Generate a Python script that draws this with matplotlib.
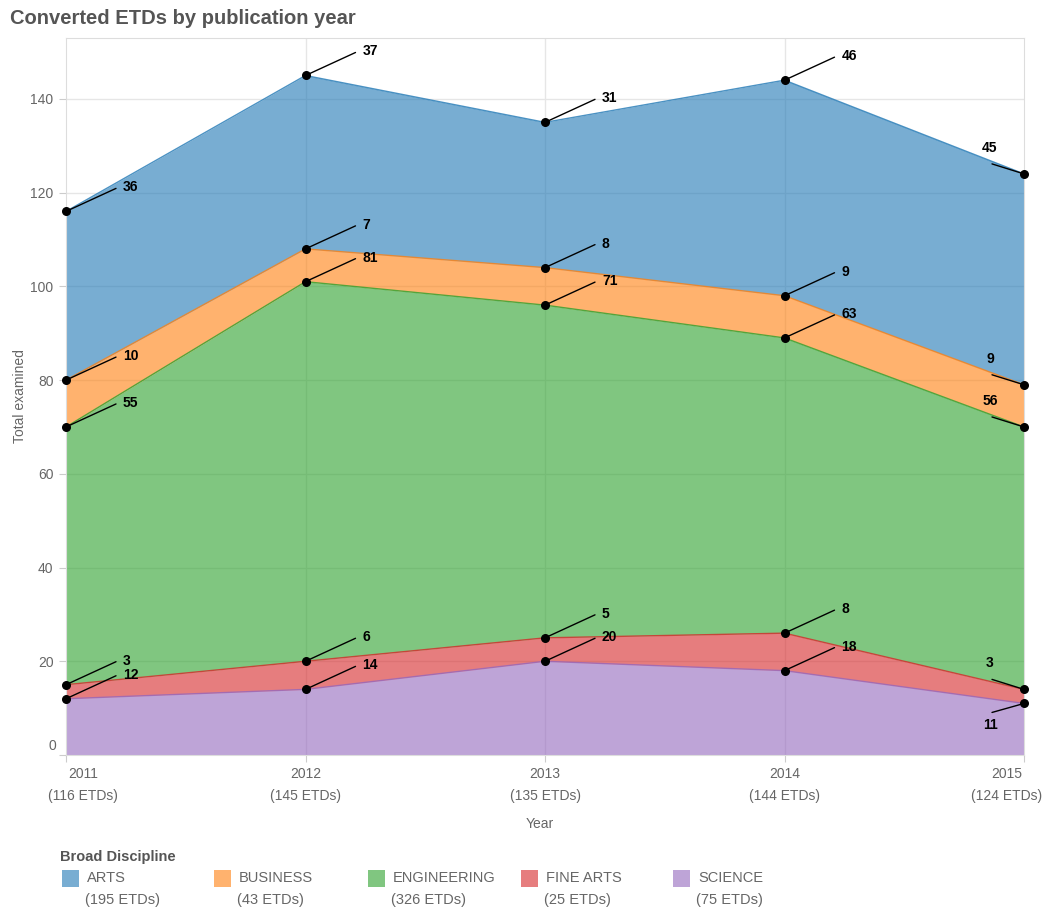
import matplotlib.pyplot as plt
from matplotlib.patches import Rectangle
import numpy as np

plt.rcParams['font.family'] = ['Liberation Sans', 'DejaVu Sans']

years = [2011, 2012, 2013, 2014, 2015]
# stacked bottom to top
disciplines = ['SCIENCE', 'FINE ARTS', 'ENGINEERING', 'BUSINESS', 'ARTS']
science = [12, 14, 20, 18, 11]
fine_arts = [3, 6, 5, 8, 3]
engineering = [55, 81, 71, 63, 56]
business = [10, 7, 8, 9, 9]
arts = [36, 37, 31, 46, 45]
colors = ['#9467bd', '#d62728', '#2ca02c', '#ff7f0e', '#1f77b4']
y_ticks = [0, 20, 40, 60, 80, 100, 120, 140]

series = [science, fine_arts, engineering, business, arts]
year_totals = np.sum(series, axis=0)

W, H = 1047, 909
fig = plt.figure(figsize=(W / 100, H / 100), dpi=100)
ax = fig.add_axes([66 / W, 1 - 755 / H, (1024 - 66) / W, (755 - 38) / H])

grey_txt = '#666666'

# gridlines underneath
for v in y_ticks[1:]:
    ax.axhline(v, color='#e6e6e6', lw=1, zorder=0)
for yr in years[1:-1]:
    ax.axvline(yr, color='#e6e6e6', lw=1, zorder=0)

bottom = np.zeros(len(years))
tops = []
for vals, c in zip(series, colors):
    top = bottom + np.array(vals)
    ax.fill_between(years, bottom, top, color=c, alpha=0.6, lw=0, zorder=1)
    ax.plot(years, top, color=c, lw=1, alpha=0.8, zorder=2)
    tops.append(top)
    bottom = top

# points and labels
for k, (vals, top) in enumerate(zip(series, tops)):
    ax.scatter(years, top, s=30, color='black', zorder=5, clip_on=False)
    for i, yr in enumerate(years):
        if i < len(years) - 1:
            line_off = (50, 23)
            txt_off = (57, 24)
            ha = 'left'
        elif k == 0:
            line_off = (-32, -9)
            txt_off = (-34, -22)
            ha = 'center'
        else:
            line_off = (-32, 10)
            txt_off = (-34, 26)
            ha = 'center'
        ax.annotate('', xy=(yr, top[i]), xytext=line_off, textcoords='offset pixels',
                    arrowprops=dict(arrowstyle='-', color='black', lw=1, shrinkA=0, shrinkB=0),
                    zorder=4, annotation_clip=False)
        ax.annotate(str(vals[i]), xy=(yr, top[i]), xytext=txt_off, textcoords='offset pixels',
                    ha=ha, va='center', fontsize=10, fontweight='bold', color='black',
                    zorder=6, annotation_clip=False)

ax.set_xlim(2011, 2015)
ax.set_ylim(0, 153)
ax.set_yticks(y_ticks, labels=[''] + [str(v) for v in y_ticks[1:]])
ax.set_xticks(years, labels=[''] * len(years))

# x labels, pulled inward at the ends like the original
shifts = [17, 0, 0, 0, -17]
for yr, tot, dx in zip(years, year_totals, shifts):
    ax.annotate(f'{yr}\n({tot} ETDs)', xy=(yr, 0), xycoords=('data', 'axes fraction'),
                xytext=(dx, -12), textcoords='offset pixels', ha='center', va='top',
                fontsize=10, color=grey_txt, linespacing=1.75, annotation_clip=False)
# zero label sits a bit higher
ax.annotate('0', xy=(0, 0), xycoords='axes fraction', xytext=(-10, 9),
            textcoords='offset pixels', ha='right', va='center', fontsize=10,
            color=grey_txt, annotation_clip=False)

ax.tick_params(axis='y', colors='#cccccc', labelcolor=grey_txt, labelsize=10, length=5, pad=4)
ax.tick_params(axis='x', colors='#cccccc', length=5)
for s in ax.spines.values():
    s.set_color('#dddddd')

fig.text(540 / W, 1 - 824 / H, 'Year', color=grey_txt, fontsize=10, ha='center', va='center')
fig.text(20 / W, 1 - 396 / H, 'Total examined', color=grey_txt, fontsize=10,
         ha='center', va='center', rotation=90)

fig.text(10 / W, 1 - 19 / H, 'Converted ETDs by publication year', fontsize=14.5,
         fontweight='bold', color='#555555', va='center', ha='left')

# legend
fig.text(60 / W, 1 - 857 / H, 'Broad Discipline', fontsize=10.5, fontweight='bold',
         color='#555555', va='center', ha='left')
leg_x = [62, 214, 368, 521, 673]
leg_order = [4, 3, 2, 1, 0]
for lx, k in zip(leg_x, leg_order):
    fig.add_artist(Rectangle((lx / W, 1 - 887 / H), 17 / W, 17 / H,
                             transform=fig.transFigure, facecolor=colors[k], alpha=0.6, lw=0))
    total = sum(series[k])
    fig.text((lx + 25) / W, 1 - 878 / H, disciplines[k], fontsize=10.5, color=grey_txt,
             va='center', ha='left')
    fig.text((lx + 23) / W, 1 - 900 / H, f'({total} ETDs)', fontsize=10.5, color=grey_txt,
             va='center', ha='left')

fig.savefig('out.png', dpi=100)
